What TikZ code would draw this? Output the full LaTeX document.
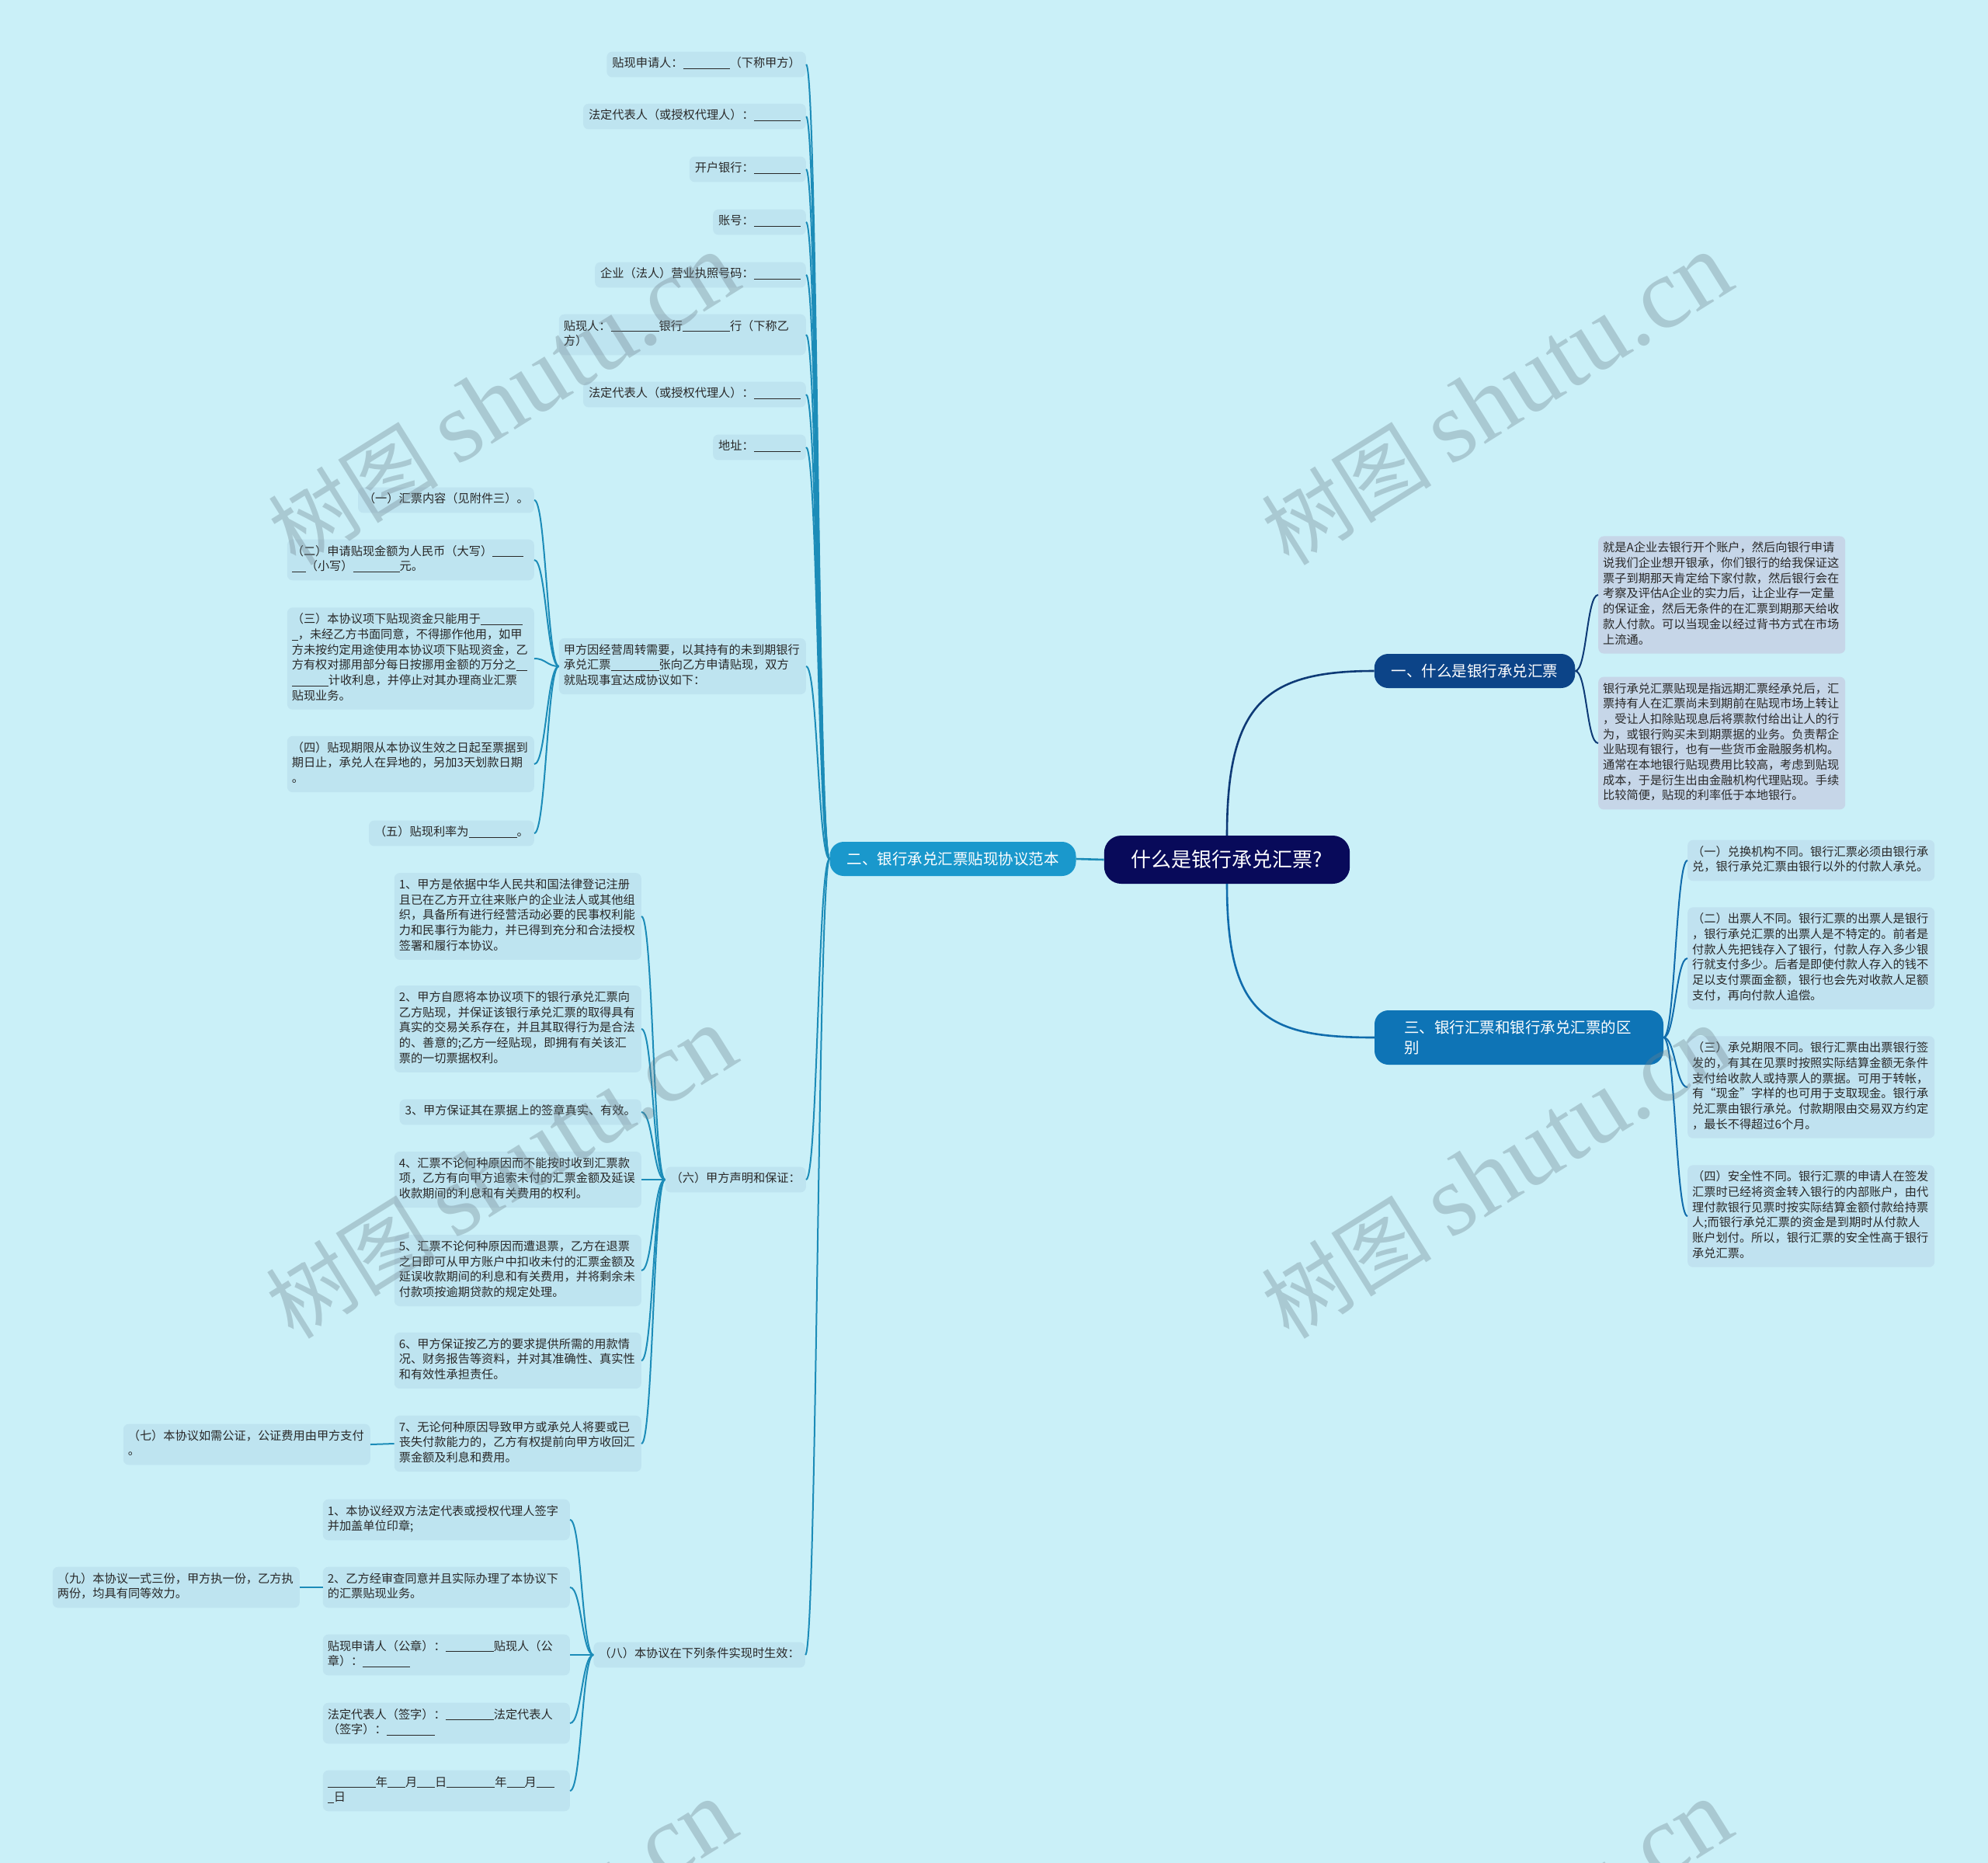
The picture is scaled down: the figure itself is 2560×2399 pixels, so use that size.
\documentclass[tikz,border=0pt]{standalone}
\usepackage{fontspec}
\setmainfont{Noto Sans CJK SC}
\newfontfamily\wmlatin{Liberation Serif}
\definecolor{bgc}{RGB}{202,240,248}
\definecolor{leafl}{RGB}{190,228,240}
\definecolor{leafa}{RGB}{198,214,232}
\definecolor{leafc}{RGB}{192,226,240}
\definecolor{rootc}{RGB}{8,10,90}
\definecolor{onec}{RGB}{12,68,136}
\definecolor{twoc}{RGB}{26,152,204}
\definecolor{threec}{RGB}{14,116,182}
\definecolor{txtc}{RGB}{40,40,40}
\definecolor{lnone}{RGB}{14,58,118}
\definecolor{lntwo}{RGB}{28,140,184}
\definecolor{lnthree}{RGB}{16,108,172}
\definecolor{wmc}{RGB}{110,130,140}
\newcommand\leaffont{\fontsize{15.2}{19.7}\selectfont}
\newcommand\brfont{\fontsize{19.5}{26}\selectfont}
\newcommand\blank[1]{\rule[-2.2pt]{#1pt}{0.9pt}}

\begin{document}
\begin{tikzpicture}[x=1pt, y=-1pt,
  leaf/.style={rounded corners=7pt, fill=leafl, text=txtc, font=\leaffont,
               align=left, inner xsep=7pt, inner ysep=6.6pt,
               execute at begin node=\strut, execute at end node=\strut},
  wide/.style={leaf, text width=306pt, inner xsep=6pt},
  brn/.style={text=white, rounded corners=18pt, font=\brfont,
              inner xsep=22pt, inner ysep=6pt, minimum height=44pt},
  lk0/.style={line width=2.6pt},
  lk/.style={line width=2pt},
  wm/.style={rotate=32, text=wmc, opacity=0.35, font=\fontsize{110}{110}\selectfont},
]
\useasboundingbox (0,0) rectangle (2560,2399);
\fill[bgc] (0,0) rectangle (2560,2399);

% centre and main branches
\node[brn, fill=rootc, font=\fontsize{26}{30}\selectfont, inner xsep=35pt,
      minimum height=62pt, rounded corners=22pt] (root) at (1580,1107) {什么是银行承兑汇票?};
\node[brn, fill=onec] (b1) at (1899,864) {一、什么是银行承兑汇票};
\node[brn, fill=twoc] (b2) at (1227,1106) {二、银行承兑汇票贴现协议范本};
\node[brn, fill=threec, align=left, text width=296pt, inner xsep=38pt,
      minimum height=70pt] (b3) at (1956,1336) {三、银行汇票和银行承兑汇票的区\\别};

\draw[lk0, lntwo] (root.west) -- (b2.east);
\draw[lk0, lnone] (root.north) .. controls +(0,-170) and +(-140,0) .. (b1.west);
\draw[lk0, lnthree] (root.south) .. controls +(0,170) and +(-140,0) .. (b3.west);

% branch one
\node[wide, fill=leafa, anchor=west] (a1) at (2058,766) {就是A企业去银行开个账户，然后向银行申请\\说我们企业想开银承，你们银行的给我保证这\\票子到期那天肯定给下家付款，然后银行会在\\考察及评估A企业的实力后，让企业存一定量\\的保证金，然后无条件的在汇票到期那天给收\\款人付款。可以当现金以经过背书方式在市场\\上流通。};
\node[wide, fill=leafa, anchor=west] (a2) at (2058,957) {银行承兑汇票贴现是指远期汇票经承兑后，汇\\票持有人在汇票尚未到期前在贴现市场上转让\\，受让人扣除贴现息后将票款付给出让人的行\\为，或银行购买未到期票据的业务。负责帮企\\业贴现有银行，也有一些货币金融服务机构。\\通常在本地银行贴现费用比较高，考虑到贴现\\成本，于是衍生出由金融机构代理贴现。手续\\比较简便，贴现的利率低于本地银行。};
\foreach \c in {a1,a2}
  \draw[lk, lnone] (b1.east) .. controls +(15,0) and +(-15,0) .. (\c.west);

% branch three
\node[wide, fill=leafc, anchor=west] (c1) at (2173,1108) {（一）兑换机构不同。银行汇票必须由银行承\\兑，银行承兑汇票由银行以外的付款人承兑。};
\node[wide, fill=leafc, anchor=west] (c2) at (2173,1234) {（二）出票人不同。银行汇票的出票人是银行\\，银行承兑汇票的出票人是不特定的。前者是\\付款人先把钱存入了银行，付款人存入多少银\\行就支付多少。后者是即使付款人存入的钱不\\足以支付票面金额，银行也会先对收款人足额\\支付，再向付款人追偿。};
\node[wide, fill=leafc, anchor=west] (c3) at (2173,1400) {（三）承兑期限不同。银行汇票由出票银行签\\发的，有其在见票时按照实际结算金额无条件\\支付给收款人或持票人的票据。可用于转帐，\\有“现金”字样的也可用于支取现金。银行承\\兑汇票由银行承兑。付款期限由交易双方约定\\，最长不得超过6个月。};
\node[wide, fill=leafc, anchor=west] (c4) at (2173,1566) {（四）安全性不同。银行汇票的申请人在签发\\汇票时已经将资金转入银行的内部账户，由代\\理付款银行见票时按实际结算金额付款给持票\\人;而银行承兑汇票的资金是到期时从付款人\\账户划付。所以，银行汇票的安全性高于银行\\承兑汇票。};
\foreach \c in {c1,c2,c3,c4}
  \draw[lk, lnthree] (b3.east) .. controls +(15,0) and +(-15,0) .. (\c.west);

% branch two
\node[leaf, anchor=east] (t1) at (1038,83) {贴现申请人：\blank{60}（下称甲方）};
\node[leaf, anchor=east] (t2) at (1038,150) {法定代表人（或授权代理人）：\blank{60}};
\node[leaf, anchor=east] (t3) at (1038,218) {开户银行：\blank{60}};
\node[leaf, anchor=east] (t4) at (1038,286) {账号：\blank{60}};
\node[leaf, anchor=east] (t5) at (1038,354) {企业（法人）营业执照号码：\blank{60}};
\node[wide, anchor=east] (t6) at (1038,431) {贴现人：\blank{62}银行\blank{61}行（下称乙\\方）};
\node[leaf, anchor=east] (t7) at (1038,508) {法定代表人（或授权代理人）：\blank{60}};
\node[leaf, anchor=east] (t8) at (1038,576) {地址：\blank{60}};
\node[wide, anchor=east] (sub) at (1038,858) {甲方因经营周转需要，以其持有的未到期银行\\承兑汇票\blank{62}张向乙方申请贴现，双方\\就贴现事宜达成协议如下：};
\node[leaf, anchor=east] (six) at (1038,1519) {（六）甲方声明和保证：};
\node[leaf, anchor=east] (eight) at (1037,2131) {（八）本协议在下列条件实现时生效：};
\foreach \c in {t1,t2,t3,t4,t5,t6,t7,t8,sub,six,eight}
  \draw[lk, lntwo] (b2.west) .. controls +(-15,0) and +(15,0) .. (\c.east);

\node[leaf, anchor=east] (s1) at (688,644) {（一）汇票内容（见附件三）。};
\node[wide, anchor=east] (s2) at (688,721) {（二）申请贴现金额为人民币（大写）\blank{40}\\\blank{18}（小写）\blank{60}元。};
\node[wide, anchor=east] (s3) at (688,848) {（三）本协议项下贴现资金只能用于\blank{54}\\\blank{8}，未经乙方书面同意，不得挪作他用，如甲\\方未按约定用途使用本协议项下贴现资金，乙\\方有权对挪用部分每日按挪用金额的万分之\blank{14}\\\blank{47}计收利息，并停止对其办理商业汇票\\贴现业务。};
\node[wide, anchor=east] (s4) at (688,984) {（四）贴现期限从本协议生效之日起至票据到\\期日止，承兑人在异地的，另加3天划款日期\\。};
\node[leaf, anchor=east] (s5) at (688,1073) {（五）贴现利率为\blank{62}。};
\foreach \c in {s1,s2,s3,s4,s5}
  \draw[lk, lntwo] (sub.west) .. controls +(-15,0) and +(15,0) .. (\c.east);

\node[wide, anchor=east] (p1) at (826,1180) {1、甲方是依据中华人民共和国法律登记注册\\且已在乙方开立往来账户的企业法人或其他组\\织，具备所有进行经营活动必要的民事权利能\\力和民事行为能力，并已得到充分和合法授权\\签署和履行本协议。};
\node[wide, anchor=east] (p2) at (826,1325) {2、甲方自愿将本协议项下的银行承兑汇票向\\乙方贴现，并保证该银行承兑汇票的取得具有\\真实的交易关系存在，并且其取得行为是合法\\的、善意的;乙方一经贴现，即拥有有关该汇\\票的一切票据权利。};
\node[leaf, anchor=east] (p3) at (826,1432) {3、甲方保证其在票据上的签章真实、有效。};
\node[wide, anchor=east] (p4) at (826,1519) {4、汇票不论何种原因而不能按时收到汇票款\\项，乙方有向甲方追索未付的汇票金额及延误\\收款期间的利息和有关费用的权利。};
\node[wide, anchor=east] (p5) at (826,1636) {5、汇票不论何种原因而遭退票，乙方在退票\\之日即可从甲方账户中扣收未付的汇票金额及\\延误收款期间的利息和有关费用，并将剩余未\\付款项按逾期贷款的规定处理。};
\node[wide, anchor=east] (p6) at (826,1752) {6、甲方保证按乙方的要求提供所需的用款情\\况、财务报告等资料，并对其准确性、真实性\\和有效性承担责任。};
\node[wide, anchor=east] (p7) at (826,1859) {7、无论何种原因导致甲方或承兑人将要或已\\丧失付款能力的，乙方有权提前向甲方收回汇\\票金额及利息和费用。};
\foreach \c in {p1,p2,p3,p4,p5,p6,p7}
  \draw[lk, lntwo] (six.west) .. controls +(-15,0) and +(15,0) .. (\c.east);
\node[wide, anchor=east] (q7) at (477,1860) {（七）本协议如需公证，公证费用由甲方支付\\。};
\draw[lk, lntwo] (p7.west) -- (q7.east);

\node[wide, anchor=east] (e1) at (734,1957) {1、本协议经双方法定代表或授权代理人签字\\并加盖单位印章;};
\node[wide, anchor=east] (e2) at (734,2044) {2、乙方经审查同意并且实际办理了本协议下\\的汇票贴现业务。};
\node[wide, anchor=east] (e3) at (734,2131) {贴现申请人（公章）：\blank{62}贴现人（公\\章）：\blank{61}};
\node[wide, anchor=east] (e4) at (734,2219) {法定代表人（签字）：\blank{62}法定代表人\\（签字）：\blank{62}};
\node[wide, anchor=east] (e5) at (734,2306) {\blank{62}年\blank{23}月\blank{23}日\blank{62}年\blank{23}月\blank{23}\\\blank{8}日};
\foreach \c in {e1,e2,e3,e4,e5}
  \draw[lk, lntwo] (eight.west) .. controls +(-15,0) and +(15,0) .. (\c.east);
\node[wide, anchor=east] (q9) at (386,2044) {（九）本协议一式三份，甲方执一份，乙方执\\两份，均具有同等效力。};
\draw[lk, lntwo] (e2.west) -- (q9.east);

% watermark
\begin{scope}
\clip (0,0) rectangle (2560,2399);
\foreach \wx/\wy [count=\k] in {648/514, 1927/514, 645/1510, 1927/1510, 645/2506, 1927/2506}
  \node[wm] (wm\k) at (\wx,\wy) {树图 {\wmlatin\fontsize{130}{130}\selectfont shutu.cn}};
\end{scope}
\end{tikzpicture}
\end{document}
